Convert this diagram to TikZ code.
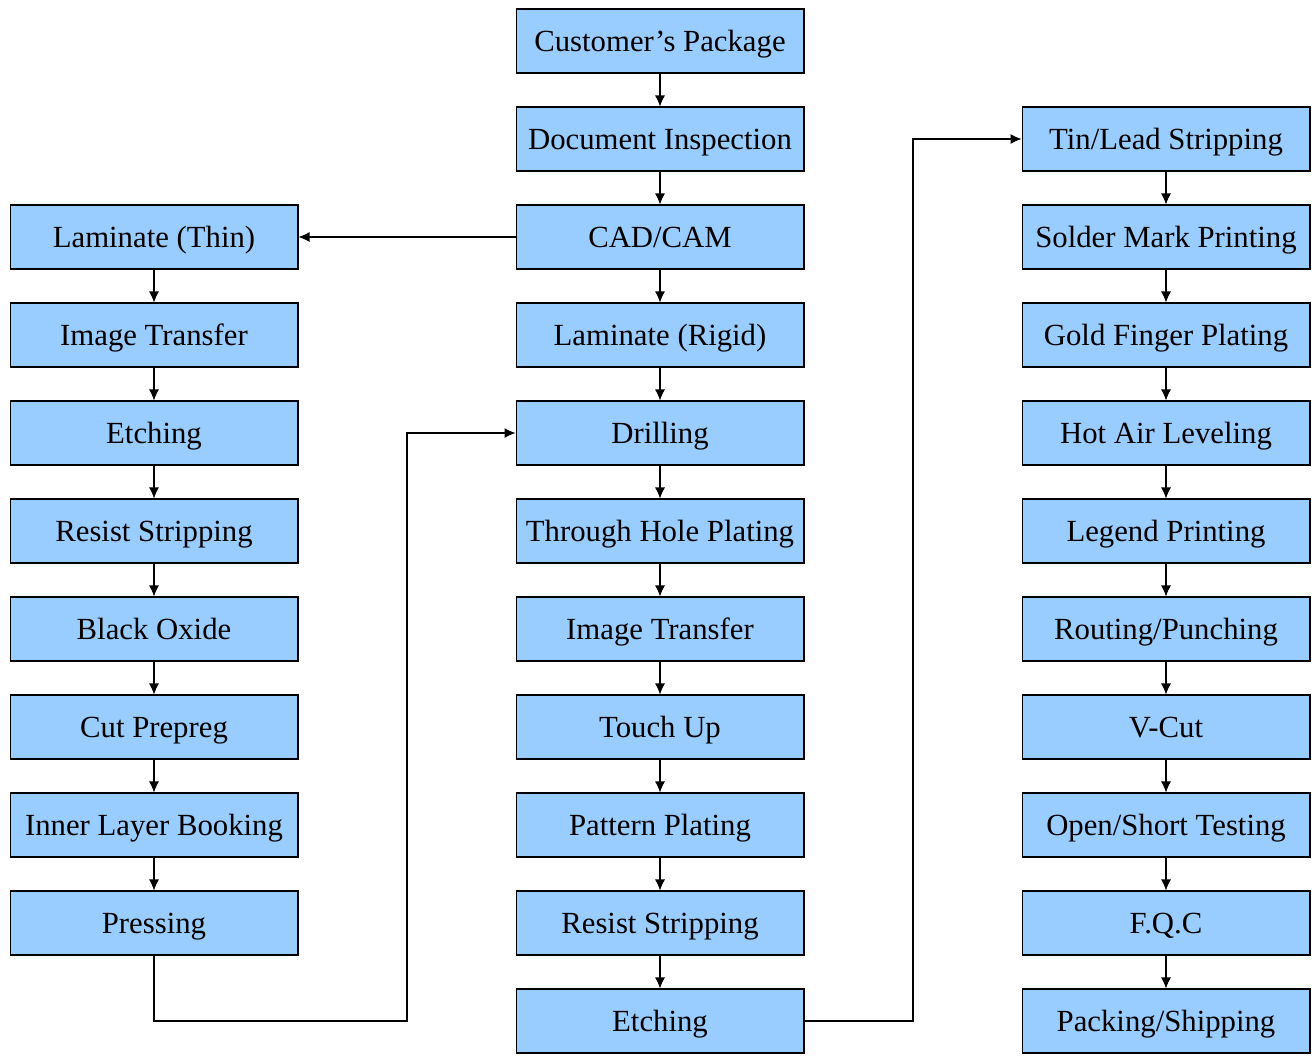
\documentclass[tikz,border=0pt]{standalone}
\usepackage{fontspec}
\setmainfont{Liberation Serif}
\usepackage{tikz}
\usetikzlibrary{arrows.meta}

\definecolor{boxblue}{HTML}{99CCFF}

\begin{document}
\begin{tikzpicture}[x=0.02cm,y=-0.02cm]
        \useasboundingbox (0,0) rectangle (1314,1055);
        \tikzstyle{procbox} = [rectangle, draw, fill=boxblue, line width=0.6pt,
            minimum width=5.76cm, minimum height=1.28cm, inner sep=0pt,
            text height=11.6pt, text depth=0pt,
            font=\fontsize{17.5}{20}\selectfont]
        \tikzstyle{link} = [-{Latex[length=2.2mm,width=2mm]}, line width=0.6pt]

        % centre column
        \node[procbox] (c0) at (660,41) {Customer's Package};
        \node[procbox] (c1) at (660,139) {Document Inspection};
        \node[procbox] (c2) at (660,237) {CAD/CAM};
        \node[procbox] (c3) at (660,335) {Laminate (Rigid)};
        \node[procbox] (c4) at (660,433) {Drilling};
        \node[procbox] (c5) at (660,531) {Through Hole Plating};
        \node[procbox] (c6) at (660,629) {Image Transfer};
        \node[procbox] (c7) at (660,727) {Touch Up};
        \node[procbox] (c8) at (660,825) {Pattern Plating};
        \node[procbox] (c9) at (660,923) {Resist Stripping};
        \node[procbox] (c10) at (660,1021) {Etching};

        % left column
        \node[procbox] (l2) at (154,237) {Laminate (Thin)};
        \node[procbox] (l3) at (154,335) {Image Transfer};
        \node[procbox] (l4) at (154,433) {Etching};
        \node[procbox] (l5) at (154,531) {Resist Stripping};
        \node[procbox] (l6) at (154,629) {Black Oxide};
        \node[procbox] (l7) at (154,727) {Cut Prepreg};
        \node[procbox] (l8) at (154,825) {Inner Layer Booking};
        \node[procbox] (l9) at (154,923) {Pressing};

        % right column
        \node[procbox] (r1) at (1166,139) {Tin/Lead Stripping};
        \node[procbox] (r2) at (1166,237) {Solder Mark Printing};
        \node[procbox] (r3) at (1166,335) {Gold Finger Plating};
        \node[procbox] (r4) at (1166,433) {Hot Air Leveling};
        \node[procbox] (r5) at (1166,531) {Legend Printing};
        \node[procbox] (r6) at (1166,629) {Routing/Punching};
        \node[procbox] (r7) at (1166,727) {V-Cut};
        \node[procbox] (r8) at (1166,825) {Open/Short Testing};
        \node[procbox] (r9) at (1166,923) {F.Q.C};
        \node[procbox] (r10) at (1166,1021) {Packing/Shipping};

        \foreach \from/\to in {c0/c1, c1/c2, c2/c3, c3/c4, c4/c5, c5/c6, c6/c7,
                c7/c8, c8/c9, c9/c10, l2/l3, l3/l4, l4/l5, l5/l6, l6/l7, l7/l8,
                l8/l9, r1/r2, r2/r3, r3/r4, r4/r5, r5/r6, r6/r7, r7/r8, r8/r9, r9/r10}
            \draw[link] (\from) -- (\to);

        \draw[link] (c2) -- (l2);
        \draw[link] (l9.south) |- (407,1021) |- (c4.west);
        \draw[link] (c10.east) -- (913,1021) |- (r1.west);
      \end{tikzpicture}
\end{document}
